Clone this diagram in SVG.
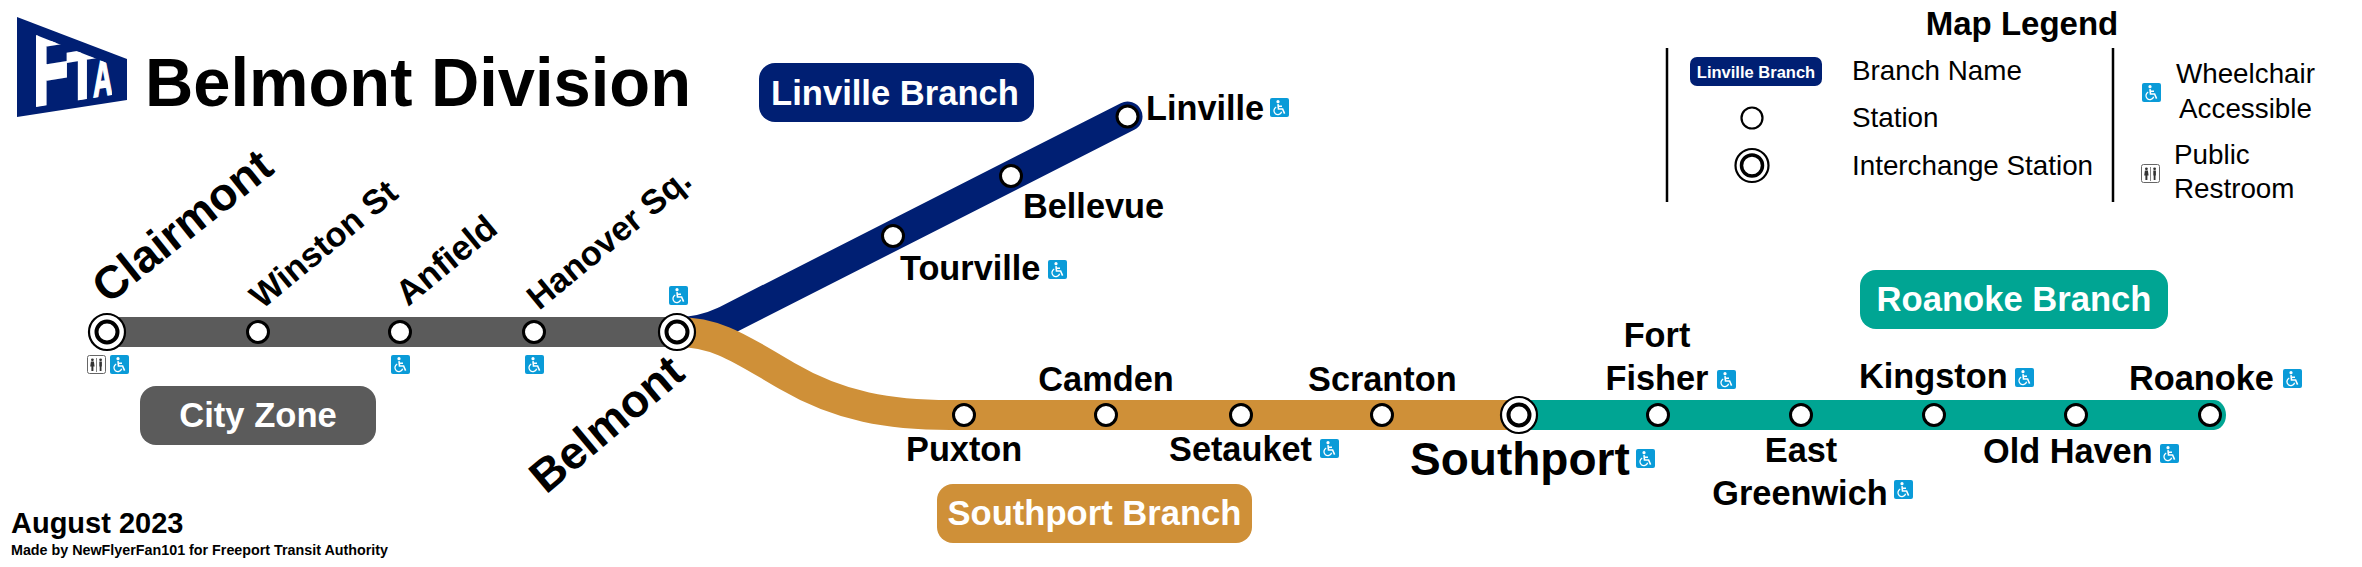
<svg xmlns="http://www.w3.org/2000/svg" xmlns:xlink="http://www.w3.org/1999/xlink" width="2362" height="567" viewBox="0 0 2362 567">
<style>
text{font-family:"Liberation Sans",Arial,sans-serif;fill:#000}
.b{font-weight:700}
.l{font-weight:700;font-size:34.3px}
.m{text-anchor:middle}
.w{fill:#fff}
.big{font-weight:700;font-size:46px}
.lg{font-size:27.8px}
.st{fill:#fff;stroke:#000;stroke-width:3}
.io{fill:#fff;stroke:#000;stroke-width:2.2}
.ii{fill:#fff;stroke:#000;stroke-width:4}
.tk{fill:none;stroke-width:30}
.br{font-weight:700;font-size:34.6px;fill:#fff;text-anchor:middle}
</style>
<defs>
<symbol id="wc" viewBox="0 0 19 19" overflow="visible">
<rect width="19" height="19" rx="2" fill="#0a9bd8"/>
<circle cx="8" cy="3.7" r="1.6" fill="#fff"/>
<path d="M8 6.2 8.5 11H12.6L14.6 15.6M8.3 8.3H12" fill="none" stroke="#fff" stroke-width="1.6"/>
<path d="M6.2 9.2A3.9 3.9 0 1 0 11.6 13.8" fill="none" stroke="#fff" stroke-width="1.3"/>
</symbol>
<symbol id="rr" viewBox="0 0 19 19" overflow="visible">
<rect x=".5" y=".5" width="18" height="18" rx="2" fill="#fff" stroke="#666" stroke-width="1"/>
<circle cx="5.4" cy="4.8" r="1.4" fill="#333"/><circle cx="13.6" cy="4.8" r="1.4" fill="#333"/>
<path fill="#333" d="M3.9 6.6H6.9L7.6 11.6H6.4V16H4.4V11.6H3.2Z"/>
<path fill="#333" d="M12.3 6.6H14.9V11.5H14.5V16H12.7V11.5H12.3Z"/>
<path d="M9.5 3V17" stroke="#666" stroke-width=".8"/>
</symbol>
<clipPath id="fc"><polygon points="36,35 112,65 112,95 36,107"/></clipPath>
</defs>
<rect width="2362" height="567" fill="#fff"/>

<g id="connectors">
<path class="tk" stroke="#5b5b5b" d="M107 332H677"/>
<path class="tk" stroke="#001f73" stroke-linecap="round" d="M677 332C695 332 710 328 725 321L1127.5 116.5"/>
<path class="tk" stroke="#cf9038" d="M677 332C720 332 745 352 787 376C840 407 890 415 950 415H1519"/>
<path class="tk" stroke="#00a593" d="M1519 415H2211"/>
<path fill="#00a593" d="M2210 400H2214A12 15 0 0 1 2226 415A12 15 0 0 1 2214 430H2210Z"/>
</g>

<g id="logo">
<polygon points="17,17 127,59 127,100 17,117" fill="#001f73"/>
<g clip-path="url(#fc)">
<text class="b w" stroke="#fff" stroke-width="4.5" font-size="100" transform="matrix(.58 -.093 0 1.05 33 107)">F</text>
<text class="b w" stroke="#fff" stroke-width="2.5" font-size="70" transform="matrix(.72 -.115 0 1 67 102)">T</text>
<text class="b w" stroke="#fff" stroke-width="2" font-size="52" transform="matrix(.52 -.084 0 1 93 98)">A</text>
</g>
</g>
<g id="title"><text class="b" font-size="68" x="145" y="106" textLength="546" lengthAdjust="spacingAndGlyphs">Belmont Division</text></g>

<g id="tag-linville"><rect x="759" y="63" width="275" height="59" rx="16" fill="#001f73"/><text class="br" x="895" y="105">Linville Branch</text></g>
<g id="tag-city"><rect x="140" y="386" width="236" height="59" rx="16" fill="#5b5b5b"/><text class="br" x="258" y="427">City Zone</text></g>
<g id="tag-southport"><rect x="937" y="484" width="315" height="59" rx="16" fill="#cf9038"/><text class="br" x="1094.5" y="525">Southport Branch</text></g>
<g id="tag-roanoke"><rect x="1860" y="270" width="308" height="59" rx="16" fill="#00a593"/><text class="br" x="2014" y="311">Roanoke Branch</text></g>

<g id="clairmont"><circle class="io" cx="107" cy="332" r="18"/><circle class="ii" cx="107" cy="332" r="10.5"/><text class="big" transform="translate(108 305) rotate(-38.5)">Clairmont</text><use href="#rr" x="87" y="355" width="19" height="19"/><use href="#wc" x="110" y="355" width="19" height="19"/></g>
<g id="winston"><circle class="st" cx="258" cy="332" r="10.5"/><text class="l" transform="translate(262 310) rotate(-39.5)">Winston St</text></g>
<g id="anfield"><circle class="st" cx="400" cy="332" r="10.5"/><text class="l" transform="translate(408 307) rotate(-39.5)" style="font-size:35px">Anfield</text><use href="#wc" x="391" y="355" width="19" height="19"/></g>
<g id="hanover"><circle class="st" cx="534" cy="332" r="10.5"/><text class="l" transform="translate(539 311) rotate(-39.5)">Hanover Sq.</text><use href="#wc" x="525" y="355" width="19" height="19"/></g>
<g id="belmont"><circle class="io" cx="677" cy="332" r="18"/><circle class="ii" cx="677" cy="332" r="10.5"/><text class="big" transform="translate(546 495) rotate(-40)">Belmont</text><use href="#wc" x="669" y="286" width="19" height="19"/></g>

<g id="tourville"><circle class="st" cx="893" cy="236" r="10.5"/><text class="l" x="900" y="280">Tourville</text><use href="#wc" x="1048" y="260" width="19" height="19"/></g>
<g id="bellevue"><circle class="st" cx="1011" cy="176" r="10.5"/><text class="l" x="1023" y="218">Bellevue</text></g>
<g id="linville"><circle class="st" cx="1127.5" cy="116.5" r="10.5"/><text class="l" x="1146" y="120">Linville</text><use href="#wc" x="1270" y="98" width="19" height="19"/></g>

<g id="puxton"><circle class="st" cx="964" cy="415" r="10.5"/><text class="l" x="906" y="461">Puxton</text></g>
<g id="camden"><circle class="st" cx="1106" cy="415" r="10.5"/><text class="l m" x="1106" y="391">Camden</text></g>
<g id="setauket"><circle class="st" cx="1241" cy="415" r="10.5"/><text class="l" x="1169" y="461">Setauket</text><use href="#wc" x="1320" y="439" width="19" height="19"/></g>
<g id="scranton"><circle class="st" cx="1382" cy="415" r="10.5"/><text class="l" x="1308" y="391">Scranton</text></g>
<g id="southport"><circle class="io" cx="1519" cy="415" r="18"/><circle class="ii" cx="1519" cy="415" r="10.5"/><text class="b" font-size="46" x="1410" y="475">Southport</text><use href="#wc" x="1636" y="449" width="19" height="19"/></g>

<g id="fort-fisher"><circle class="st" cx="1658" cy="415" r="10.5"/><text class="l m" x="1657" y="347">Fort</text><text class="l m" x="1657" y="390">Fisher</text><use href="#wc" x="1717" y="370" width="19" height="19"/></g>
<g id="east-greenwich"><circle class="st" cx="1801" cy="415" r="10.5"/><text class="l m" x="1801" y="462">East</text><text class="l m" x="1800" y="505">Greenwich</text><use href="#wc" x="1894" y="480" width="19" height="19"/></g>
<g id="kingston"><circle class="st" cx="1934" cy="415" r="10.5"/><text class="l" x="1859" y="388">Kingston</text><use href="#wc" x="2015" y="368" width="19" height="19"/></g>
<g id="old-haven"><circle class="st" cx="2076" cy="415" r="10.5"/><text class="l" x="1983" y="463">Old Haven</text><use href="#wc" x="2160" y="444" width="19" height="19"/></g>
<g id="roanoke"><circle class="st" cx="2210" cy="415" r="10.5"/><text class="l" x="2129" y="390">Roanoke</text><use href="#wc" x="2283" y="369" width="19" height="19"/></g>

<g id="legend">
<text class="b m" font-size="33" x="2022" y="35">Map Legend</text>
<path d="M1667 48V202M2113 48V202" stroke="#000" stroke-width="2.5" fill="none"/>
<rect x="1690" y="57" width="132" height="29" rx="7" fill="#001f73"/>
<text class="b w m" font-size="16.5" x="1756" y="77.5">Linville Branch</text>
<text class="lg" x="1852" y="80">Branch Name</text>
<circle class="st" cx="1752" cy="118" r="10.5" style="stroke-width:2.2"/>
<text class="lg" x="1852" y="127">Station</text>
<circle class="io" cx="1752" cy="165.5" r="16.5"/><circle class="ii" cx="1752" cy="165.5" r="10.5" style="stroke-width:3.5"/>
<text class="lg" x="1852" y="175">Interchange Station</text>
<use href="#wc" x="2142" y="83" width="19" height="19"/>
<text class="lg m" x="2245.5" y="83">Wheelchair</text>
<text class="lg m" x="2245.5" y="118">Accessible</text>
<use href="#rr" x="2141" y="164" width="19" height="19"/>
<text class="lg" x="2174" y="163.5">Public</text>
<text class="lg" x="2174" y="198">Restroom</text>
</g>

<g id="footer">
<text class="b" font-size="29" x="11" y="533">August 2023</text>
<text class="b" font-size="15.5" x="11" y="555" textLength="377" lengthAdjust="spacingAndGlyphs">Made by NewFlyerFan101 for Freeport Transit Authority</text>
</g>
</svg>
